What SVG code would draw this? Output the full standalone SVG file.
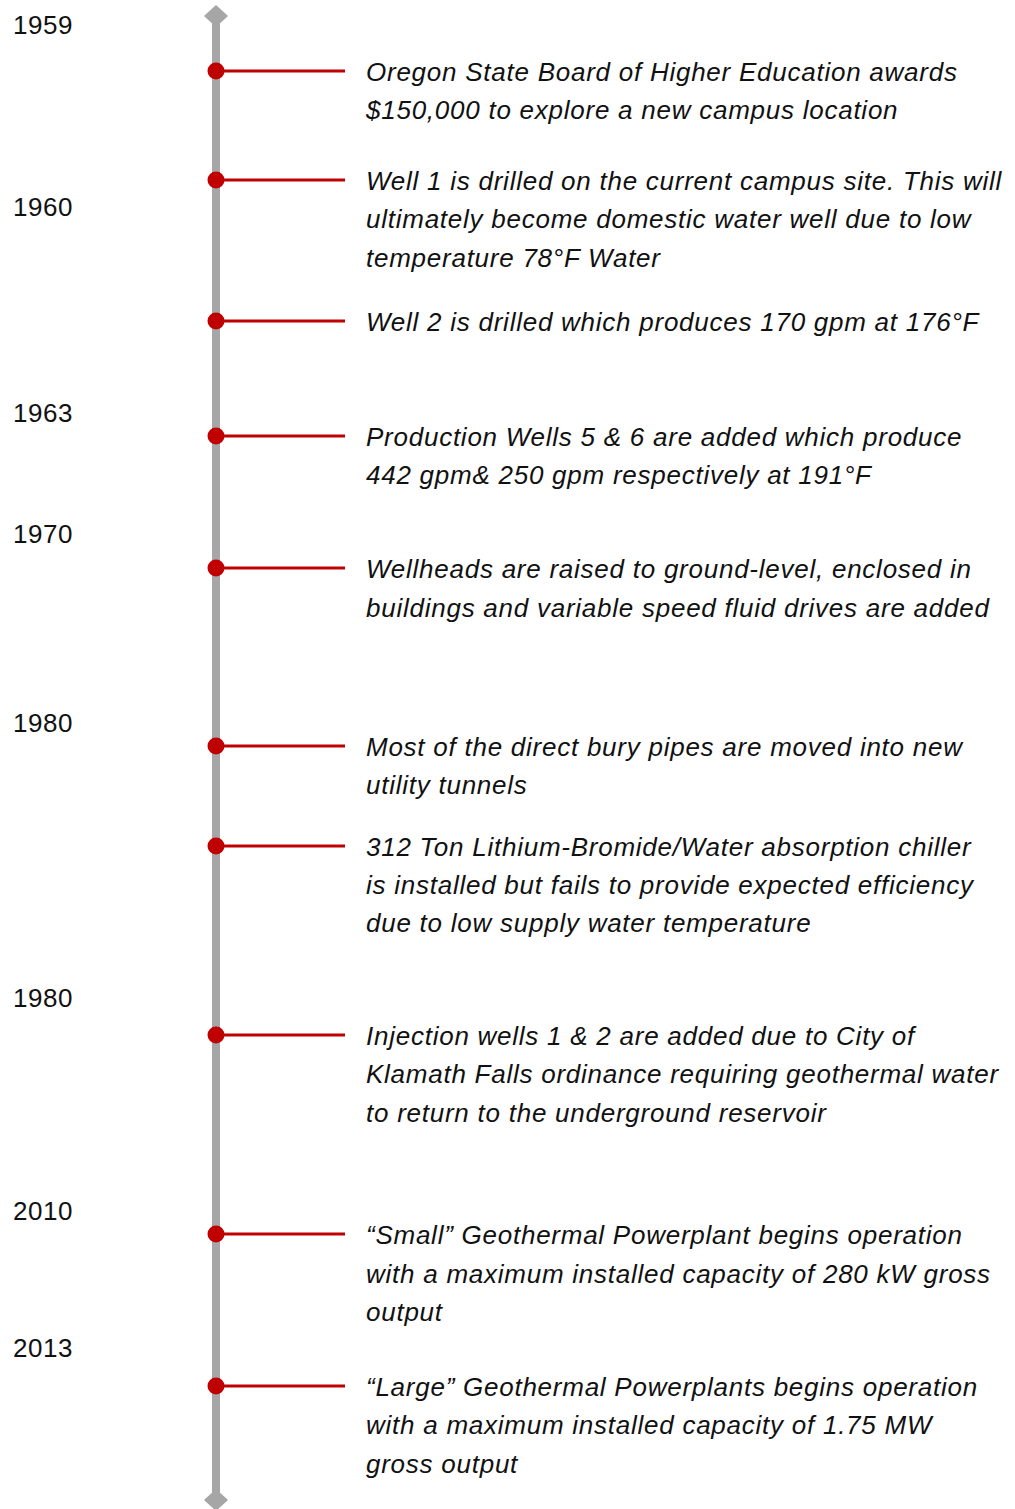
<svg xmlns="http://www.w3.org/2000/svg" width="1015" height="1509" viewBox="0 0 1015 1509">
<style>
.yr{font-family:"Liberation Sans",Arial,sans-serif;font-size:26px;letter-spacing:0.5px;fill:#111}
.tx{font-family:"Liberation Sans",Arial,sans-serif;font-size:26px;letter-spacing:0.75px;font-style:italic;fill:#111}
.lk{stroke:#c00000;stroke-width:3}
.dot{fill:#c00000}
</style>
<rect width="1015" height="1509" fill="#fff"/>
<g id="axis">
<line x1="216" y1="16" x2="216" y2="1500" stroke="#a6a6a6" stroke-width="8"/>
<polygon points="216,5 228,16 216,27 204,16" fill="#a6a6a6"/>
<polygon points="216,1489 228,1500 216,1511 204,1500" fill="#a6a6a6"/>
</g>
<g id="years">
<text class="yr" x="13" y="34">1959</text>
<text class="yr" x="13" y="216">1960</text>
<text class="yr" x="13" y="422">1963</text>
<text class="yr" x="13" y="543">1970</text>
<text class="yr" x="13" y="732">1980</text>
<text class="yr" x="13" y="1007">1980</text>
<text class="yr" x="13" y="1220">2010</text>
<text class="yr" x="13" y="1357">2013</text>
</g>
<g id="connectors">
<line class="lk" x1="216" y1="71" x2="345" y2="71"/>
<line class="lk" x1="216" y1="180" x2="345" y2="180"/>
<line class="lk" x1="216" y1="321" x2="345" y2="321"/>
<line class="lk" x1="216" y1="436" x2="345" y2="436"/>
<line class="lk" x1="216" y1="568" x2="345" y2="568"/>
<line class="lk" x1="216" y1="746" x2="345" y2="746"/>
<line class="lk" x1="216" y1="846" x2="345" y2="846"/>
<line class="lk" x1="216" y1="1035" x2="345" y2="1035"/>
<line class="lk" x1="216" y1="1234" x2="345" y2="1234"/>
<line class="lk" x1="216" y1="1386" x2="345" y2="1386"/>
</g>
<g id="e1"><circle class="dot" cx="216" cy="71" r="8.5"/>
<text class="tx" x="366" y="81">Oregon State Board of Higher Education awards</text>
<text class="tx" x="366" y="119">$150,000 to explore a new campus location</text></g>
<g id="e2"><circle class="dot" cx="216" cy="180" r="8.5"/>
<text class="tx" x="366" y="190">Well 1 is drilled on the current campus site. This will</text>
<text class="tx" x="366" y="228">ultimately become domestic water well due to low</text>
<text class="tx" x="366" y="267">temperature 78°F Water</text></g>
<g id="e3"><circle class="dot" cx="216" cy="321" r="8.5"/>
<text class="tx" x="366" y="331">Well 2 is drilled which produces 170 gpm at 176°F</text></g>
<g id="e4"><circle class="dot" cx="216" cy="436" r="8.5"/>
<text class="tx" x="366" y="446">Production Wells 5 &amp; 6 are added which produce</text>
<text class="tx" x="366" y="484">442 gpm&amp; 250 gpm respectively at 191°F</text></g>
<g id="e5"><circle class="dot" cx="216" cy="568" r="8.5"/>
<text class="tx" x="366" y="578">Wellheads are raised to ground-level, enclosed in</text>
<text class="tx" x="366" y="617">buildings and variable speed fluid drives are added</text></g>
<g id="e6"><circle class="dot" cx="216" cy="746" r="8.5"/>
<text class="tx" x="366" y="756">Most of the direct bury pipes are moved into new</text>
<text class="tx" x="366" y="794">utility tunnels</text></g>
<g id="e7"><circle class="dot" cx="216" cy="846" r="8.5"/>
<text class="tx" x="366" y="856">312 Ton Lithium-Bromide/Water absorption chiller</text>
<text class="tx" x="366" y="894">is installed but fails to provide expected efficiency</text>
<text class="tx" x="366" y="932">due to low supply water temperature</text></g>
<g id="e8"><circle class="dot" cx="216" cy="1035" r="8.5"/>
<text class="tx" x="366" y="1045">Injection wells 1 &amp; 2 are added due to City of</text>
<text class="tx" x="366" y="1083">Klamath Falls ordinance requiring geothermal water</text>
<text class="tx" x="366" y="1122">to return to the underground reservoir</text></g>
<g id="e9"><circle class="dot" cx="216" cy="1234" r="8.5"/>
<text class="tx" x="366" y="1244">“Small” Geothermal Powerplant begins operation</text>
<text class="tx" x="366" y="1283">with a maximum installed capacity of 280 kW gross</text>
<text class="tx" x="366" y="1321">output</text></g>
<g id="e10"><circle class="dot" cx="216" cy="1386" r="8.5"/>
<text class="tx" x="366" y="1396">“Large” Geothermal Powerplants begins operation</text>
<text class="tx" x="366" y="1434">with a maximum installed capacity of 1.75 MW</text>
<text class="tx" x="366" y="1473">gross output</text></g>
</svg>
